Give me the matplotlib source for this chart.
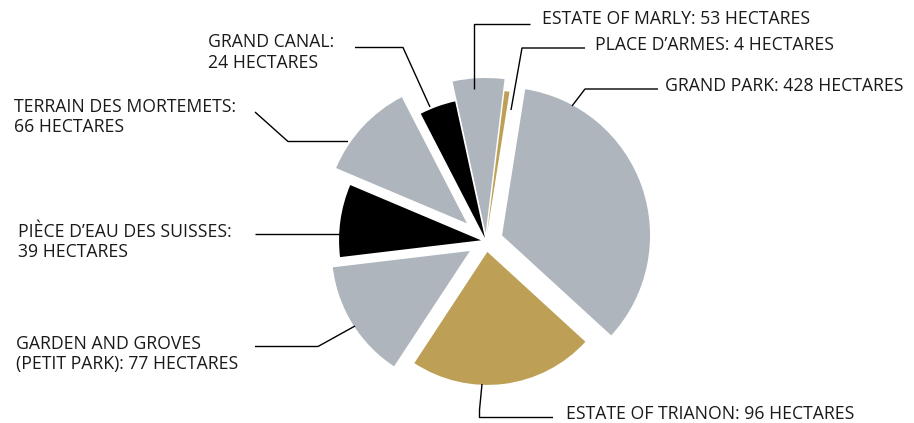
import matplotlib
matplotlib.use("Agg")
import matplotlib.pyplot as plt

# -------------------------
# Data (the source chart is not drawn to scale: wedge sizes are read off it)
# -------------------------
areas = ["GRAND PARK", "PLACE D\u2019ARMES", "ESTATE OF MARLY", "GRAND CANAL",
         "TERRAIN DES MORTEMETS", "PI\u00c8CE D\u2019EAU DES SUISSES",
         "GARDEN AND GROVES (PETIT PARK)", "ESTATE OF TRIANON"]
hectares = [428, 4, 53, 24, 66, 39, 77, 96]
wedge_deg = [123.5, 2.0, 19.3, 15.0, 39.8, 29.7, 49.9, 80.8]

# -------------------------
# Styling
# -------------------------
GRAY = "#aeb5bd"
GOLD = "#bd9f56"
BLACK = "#000000"
colors = [GRAY, GOLD, GRAY, BLACK, GRAY, BLACK, GRAY, GOLD]
explode = [17, 8, 8, 3, 26, 5, 19, 11]          # px
radii = [148, 143, 155, 140, 142, 142, 138, 133]  # px

W, H = 914, 423
CX, CY = 486, H - 241

fig = plt.figure(figsize=(W / 100, H / 100), dpi=100)
ax = fig.add_axes([0, 0, 1, 1])

wedges, _ = ax.pie(wedge_deg, colors=colors, explode=explode, radius=145,
                   center=(CX, CY), startangle=-42.5, counterclock=True,
                   wedgeprops=dict(linewidth=0))
for w, r in zip(wedges, radii):
    w.set_radius(r)

ax.set_xlim(0, W)
ax.set_ylim(0, H)
ax.set_aspect("equal")
ax.axis("off")

FONT = dict(family=["Open Sans", "DejaVu Sans"], fontsize=12.7, color="#1a1a1a")


def label(x, y, text, ha="left"):
    ax.text(x, H - y, text, ha=ha, va="center", linespacing=1.2, **FONT)


def leader(xs, ys):
    ax.plot(xs, [H - v for v in ys], color="black", lw=1.0,
            solid_capstyle="butt")


lab = {a: f"{a}: {h} HECTARES" for a, h in zip(areas, hectares)}

# Grand Park
label(665, 86, lab[areas[0]])
leader([658, 585, 572], [89, 89, 106])
# Place d'Armes
label(595, 45, lab[areas[1]])
leader([585, 522, 511], [48, 48, 110])
# Estate of Marly
label(542, 19, lab[areas[2]])
leader([530, 473.5, 473.5], [24, 24, 89])
# Grand Canal
label(208, 52.5, f"{areas[3]}:\n{hectares[3]} HECTARES")
leader([355, 403, 430], [47.5, 47.5, 107])
# Terrain des Mortemets
label(14, 117, f"{areas[4]}:\n{hectares[4]} HECTARES")
leader([255, 288, 348], [112, 141.5, 141.5])
# Piece d'eau des Suisses
label(18, 242, f"{areas[5]}:\n{hectares[5]} HECTARES")
leader([255, 341], [233.5, 233.5])
# Garden and Groves
label(16, 354, f"GARDEN AND GROVES\n(PETIT PARK): {hectares[6]} HECTARES")
leader([255, 318, 355], [346.5, 346.5, 326])
# Trianon
label(566, 414, lab[areas[7]])
leader([482, 479.5, 479.5, 553], [384, 410, 417.5, 417.5])

fig.savefig("out.png", dpi=100)
